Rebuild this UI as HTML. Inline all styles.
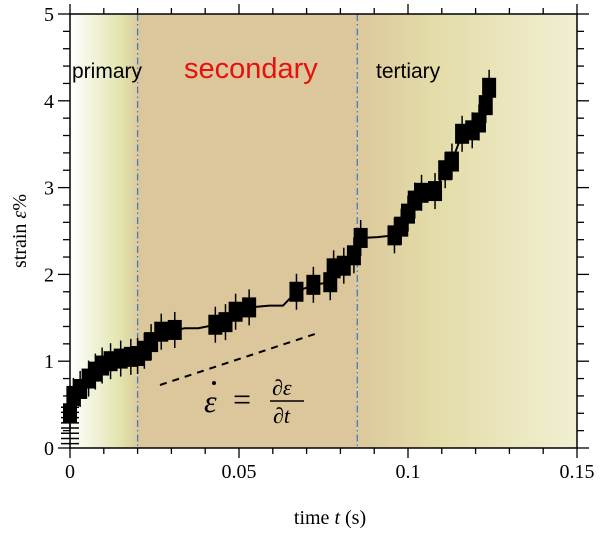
<!DOCTYPE html>
<html><head><meta charset="utf-8"><style>
body{margin:0;background:#fff}
svg{display:block;font-family:"Liberation Serif",serif}
</style></head><body>
<svg width="600" height="534" viewBox="0 0 600 534">
<defs>
<linearGradient id="gp" x1="0" x2="1" y1="0" y2="0">
<stop offset="0" stop-color="#ffffff"/><stop offset="0.75" stop-color="#e2e4ae"/><stop offset="1" stop-color="#dccb9c"/></linearGradient>
<linearGradient id="gt" x1="0" x2="1" y1="0" y2="0">
<stop offset="0" stop-color="#dcc89c"/><stop offset="0.35" stop-color="#e3dca8"/><stop offset="1" stop-color="#f1efd2"/></linearGradient>
</defs>
<g id="bg"></g>
<g id="grid"></g>
<g id="series"></g>
<g id="axes"></g>
<text x="72" y="78" font-family="Liberation Sans,sans-serif" font-size="21">primary</text>
<text x="184" y="78" font-family="Liberation Sans,sans-serif" font-size="29" fill="#e8100c">secondary</text>
<text x="376" y="78" font-family="Liberation Sans,sans-serif" font-size="21">tertiary</text>
<line x1="160" y1="385" x2="318" y2="333" stroke="#000" stroke-width="2" stroke-dasharray="7,6"/>
<g>
<text x="204" y="412" font-size="32" font-style="italic">ε</text>
<circle cx="214" cy="383" r="2" fill="#000"/>
<text x="233" y="410" font-size="32">=</text>
<text x="272" y="395" font-size="22" font-style="italic">∂ε</text>
<line x1="270" y1="401" x2="304" y2="401" stroke="#000" stroke-width="1.4"/>
<text x="273" y="423" font-size="22" font-style="italic">∂t</text>
</g>
<text x="330" y="524" font-size="20" text-anchor="middle">time <tspan font-style="italic">t</tspan> (s)</text>
<text transform="translate(26,231) rotate(-90)" font-size="20" text-anchor="middle">strain <tspan font-style="italic">ε</tspan>%</text>
</svg>
<script>
const ts=[0,0.001,0.003,0.0055,0.0075,0.0095,0.012,0.015,0.018,0.02,0.022,0.024,0.027,0.031,0.034,0.038,0.043,0.046,0.049,0.053,0.059,0.063,0.067,0.072,0.077,0.078,0.081,0.084,0.086,0.091,0.096,0.098,0.1,0.102,0.104,0.108,0.111,0.113,0.116,0.119,0.121,0.123,0.124];
const strain=[0.4,0.6,0.68,0.8,0.88,0.95,1.0,1.03,1.05,1.06,1.12,1.22,1.34,1.36,1.38,1.38,1.42,1.45,1.57,1.62,1.64,1.64,1.8,1.88,1.91,2.07,2.1,2.22,2.42,2.43,2.45,2.55,2.7,2.85,2.94,2.96,3.2,3.3,3.62,3.66,3.75,3.95,4.15];
const xTicks=[0,0.05,0.1,0.15], xTickLabels=["0","0.05","0.1","0.15"];
const yTicks=[0,1,2,3,4,5], yTickLabels=["0","1","2","3","4","5"];
const phases=[0.02,0.085];
const X0=70,X1=577,Y0=448,Y1=14;
const sx=t=>X0+(t-0)/0.15*(X1-X0), sy=v=>Y0-v/5*(Y0-Y1);
const NS="http://www.w3.org/2000/svg";
function mk(tag,a,p){const e=document.createElementNS(NS,tag);for(const k in a)e.setAttribute(k,a[k]);p.appendChild(e);return e;}
const bg=document.getElementById('bg'),grid=document.getElementById('grid'),ser=document.getElementById('series'),ax=document.getElementById('axes');
let r=mk('rect',{x:X0,y:Y1,width:sx(phases[0])-X0,height:Y0-Y1,fill:'url(#gp)'},bg);


r=mk('rect',{x:sx(phases[0]),y:Y1,width:sx(phases[1])-sx(phases[0]),height:Y0-Y1,fill:'#dcc79c'},bg);


r=mk('rect',{x:sx(phases[1]),y:Y1,width:X1-sx(phases[1]),height:Y0-Y1,fill:'url(#gt)'},bg);


phases.forEach(p=>{const l=mk('line',{x1:sx(p),x2:sx(p),y1:Y1,y2:Y0,stroke:'#3f7fc0','stroke-width':1.3,'stroke-dasharray':'7,3,1.5,3'},grid);

});
const pl=mk('polyline',{points:ts.map((t,i)=>sx(t)+','+sy(strain[i])).join(' '),fill:'none',stroke:'#000','stroke-width':2},ser);


ts.forEach((t,i)=>{if(i>0&&Math.abs(strain[i]-strain[i-1])<0.02&&t-ts[i-1]>0.003)return;
const g=mk('g',{},ser);


const x=sx(t),y=sy(strain[i]);
mk('rect',{x:x-7,y:y-10,width:14,height:20,fill:'#000'},g);
mk('line',{x1:x,x2:x,y1:y-18,y2:y+18,stroke:'#000','stroke-width':1.5},g);});
for(let k=0;k<8;k++){const l=mk('line',{x1:X0-9,x2:X0+9,y1:sy(0.05+k*0.06),y2:sy(0.05+k*0.06),stroke:'#000','stroke-width':1.5},ser);

}
const fr=mk('rect',{x:X0,y:Y1,width:X1-X0,height:Y0-Y1,fill:'none',stroke:'#000','stroke-width':1.5},ax);


for(let i=0;i<=15;i++){const x=sx(i*0.01),L=i%5==0?10:6;
mk('line',{x1:x,x2:x,y1:Y0,y2:Y0+L,stroke:'#000','stroke-width':1.3},ax);
mk('line',{x1:x,x2:x,y1:Y1,y2:Y1-L,stroke:'#000','stroke-width':1.3},ax);}
for(let i=0;i<=25;i++){const y=sy(i*0.2),L=i%5==0?12:7;
mk('line',{x1:X0-L,x2:X0,y1:y,y2:y,stroke:'#000','stroke-width':1.3},ax);
mk('line',{x1:X1,x2:X1+L,y1:y,y2:y,stroke:'#000','stroke-width':1.3},ax);}
xTicks.forEach((t,i)=>{const e=mk('text',{x:sx(t),y:Y0+30,'font-size':20,'text-anchor':'middle'},ax);e.textContent=xTickLabels[i];

});
yTicks.forEach((v,i)=>{const e=mk('text',{x:X0-16,y:sy(v)+7,'font-size':20,'text-anchor':'end'},ax);e.textContent=yTickLabels[i];

});
</script>
</body></html>
